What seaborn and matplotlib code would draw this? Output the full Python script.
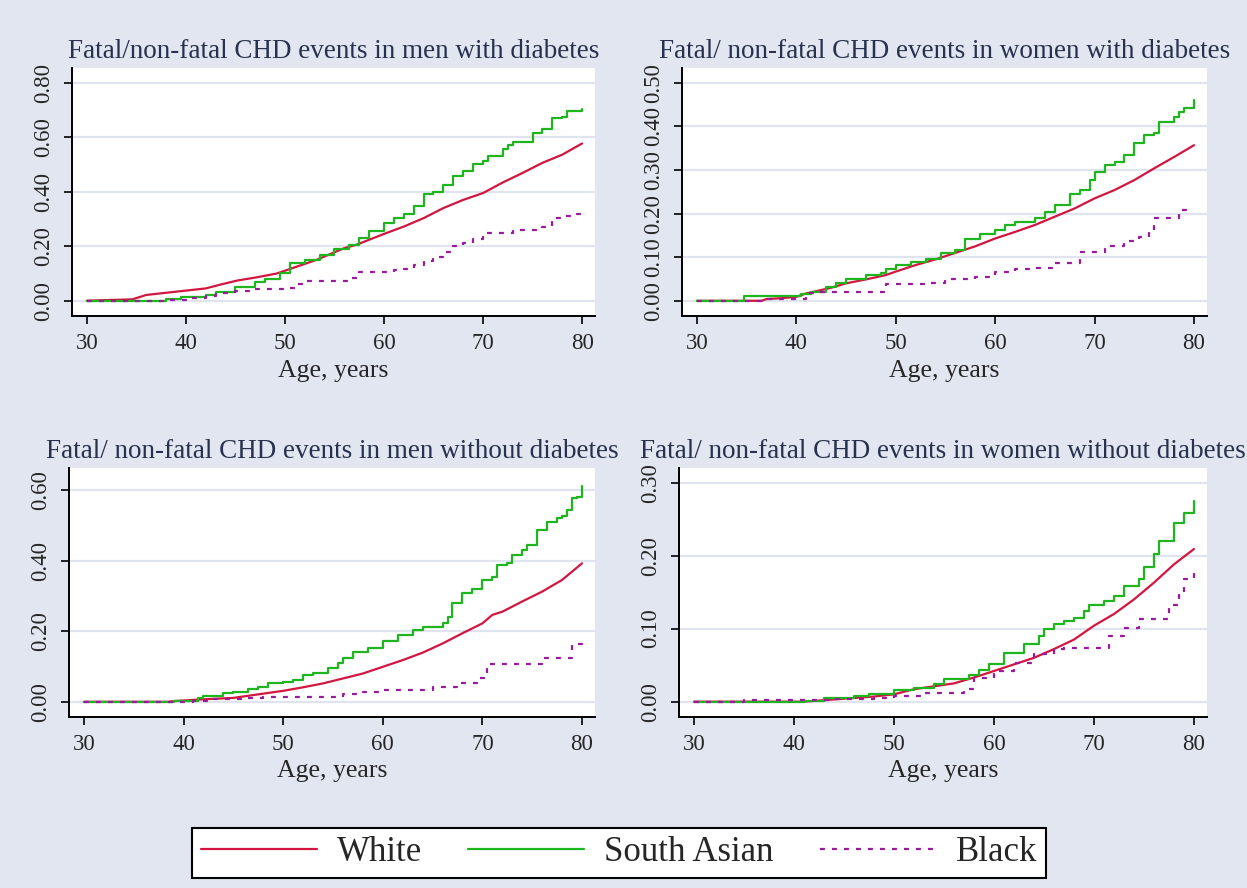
import matplotlib
matplotlib.use('Agg')
import matplotlib.pyplot as plt
from matplotlib.lines import Line2D
import pandas as pd
import seaborn as sns

# Cumulative fatal / non-fatal CHD risk by age
groups = ['White', 'South Asian', 'Black']

# men with diabetes
men_diab_white_age = [30, 34.6, 36, 38, 40, 42, 43.6, 45.2, 47.2, 49.2, 50, 53.2, 56, 57.2, 60,
                      62, 64, 66, 68, 70, 72, 74, 76, 78, 80]
men_diab_white_risk = [0, 0.005, 0.021, 0.029, 0.037, 0.045, 0.06, 0.074, 0.086, 0.1, 0.11, 0.15,
                       0.193, 0.205, 0.245, 0.272, 0.303, 0.34, 0.37, 0.395, 0.434, 0.469, 0.506,
                       0.536, 0.577]
men_diab_sa_age = [30, 37.5, 38, 39.5, 42, 43, 45, 47, 48, 49.5, 50.5, 52, 53.5, 55, 56.5, 57.5,
                   58.5, 60, 61, 62, 63, 64, 65, 66, 67, 68, 69, 70, 70.5, 72, 72.5, 73, 75, 76,
                   77, 78, 78.5, 80]
men_diab_sa_risk = [0, 0, 0.005, 0.015, 0.021, 0.033, 0.05, 0.067, 0.08, 0.1, 0.137, 0.15, 0.168,
                    0.19, 0.205, 0.23, 0.254, 0.285, 0.303, 0.32, 0.346, 0.39, 0.40, 0.426, 0.456,
                    0.475, 0.5, 0.512, 0.53, 0.555, 0.573, 0.582, 0.616, 0.63, 0.671, 0.675, 0.696,
                    0.705]
men_diab_black_age = [30, 38, 40, 42, 43, 45, 47, 50, 51, 52, 56.5, 57.5, 61, 62, 63, 64, 65, 66,
                      67, 68, 69, 70, 73, 76, 77, 78, 79.5, 80]
men_diab_black_risk = [0, 0.003, 0.009, 0.017, 0.027, 0.036, 0.044, 0.045, 0.06, 0.072, 0.082,
                       0.107, 0.113, 0.115, 0.131, 0.144, 0.162, 0.18, 0.2, 0.211, 0.226, 0.248,
                       0.26, 0.269, 0.303, 0.309, 0.318, 0.318]

# women with diabetes
women_diab_white_age = [30, 36.5, 37, 38.5, 40, 41, 42, 43.5, 45, 47, 49, 50, 52, 54, 56, 58, 60,
                        62, 64, 66, 68, 70, 72, 74, 76, 78, 80]
women_diab_white_risk = [0, 0, 0.004, 0.006, 0.009, 0.017, 0.022, 0.03, 0.04, 0.049, 0.059, 0.067,
                         0.082, 0.095, 0.11, 0.125, 0.143, 0.158, 0.174, 0.193, 0.212, 0.235,
                         0.254, 0.277, 0.304, 0.33, 0.357]
women_diab_sa_age = [30, 34.7, 40.5, 41.5, 43, 44, 45, 47, 48.5, 49, 50, 51.5, 53, 54.5, 56, 57,
                     58.5, 60, 61, 62, 64, 65, 66, 67.5, 68.5, 69.5, 70, 71, 72, 73, 74, 75, 76,
                     76.5, 78, 78.5, 79, 80]
women_diab_sa_risk = [0, 0.011, 0.015, 0.021, 0.032, 0.041, 0.051, 0.059, 0.063, 0.072, 0.082,
                      0.089, 0.095, 0.109, 0.116, 0.141, 0.154, 0.162, 0.174, 0.181, 0.189, 0.204,
                      0.219, 0.246, 0.254, 0.277, 0.296, 0.311, 0.319, 0.334, 0.361, 0.38, 0.384,
                      0.41, 0.422, 0.433, 0.443, 0.46]
women_diab_black_age = [30, 37, 41, 42, 49, 53, 55, 58, 59.5, 60, 62, 64, 66, 68.5, 71, 73, 74.5,
                        75.5, 76, 78.5, 79.5]
women_diab_black_risk = [0, 0.003, 0.017, 0.021, 0.038, 0.041, 0.051, 0.055, 0.059, 0.067, 0.072,
                         0.076, 0.086, 0.112, 0.125, 0.138, 0.147, 0.162, 0.189, 0.208, 0.208]

# men without diabetes
men_nodiab_white_age = [30, 38.5, 39, 42, 45, 47, 50, 52, 54, 56, 58, 60, 62, 64, 66, 68, 70, 71,
                        72, 74, 76, 78, 80]
men_nodiab_white_risk = [0, 0, 0.002, 0.007, 0.011, 0.019, 0.031, 0.041, 0.052, 0.066, 0.08,
                         0.099, 0.118, 0.139, 0.165, 0.194, 0.222, 0.246, 0.255, 0.284, 0.312,
                         0.345, 0.392]
men_nodiab_sa_age = [30, 38.5, 39, 41.5, 42, 44, 45, 46.5, 47.5, 48.5, 50, 51, 52, 53, 54.5, 55.5,
                     56, 57, 58.5, 60, 61.5, 63, 64, 66, 66.5, 67, 68, 69, 70, 71, 71.5, 72.5, 73,
                     74, 74.5, 75.5, 76.5, 77.5, 78, 78.5, 79, 79.5, 80]
men_nodiab_sa_risk = [0, 0, 0.003, 0.011, 0.017, 0.024, 0.028, 0.035, 0.043, 0.052, 0.057, 0.061,
                      0.076, 0.082, 0.095, 0.109, 0.125, 0.142, 0.153, 0.173, 0.189, 0.203, 0.213,
                      0.224, 0.241, 0.279, 0.307, 0.319, 0.345, 0.354, 0.388, 0.392, 0.416, 0.43,
                      0.444, 0.487, 0.51, 0.52, 0.526, 0.543, 0.577, 0.581, 0.61]
men_nodiab_black_age = [30, 41, 43, 46, 48, 56, 58, 60, 65, 67.5, 69.5, 70.5, 76, 79, 80]
men_nodiab_black_risk = [0, 0.003, 0.007, 0.011, 0.014, 0.021, 0.028, 0.033, 0.043, 0.052, 0.066,
                         0.106, 0.125, 0.165, 0.168]

# women without diabetes
women_nodiab_white_age = [30, 41, 42, 44, 46, 48, 50, 52, 54, 56, 58, 60, 62, 64, 66, 68, 70, 72,
                          74, 76, 78, 80]
women_nodiab_white_risk = [0, 0, 0.001, 0.003, 0.005, 0.007, 0.01, 0.017, 0.021, 0.025, 0.033,
                           0.042, 0.051, 0.06, 0.072, 0.085, 0.104, 0.12, 0.14, 0.163, 0.188, 0.209]
women_nodiab_sa_age = [30, 41, 43, 46, 47.5, 50, 52, 54, 55, 57.5, 58.5, 59.5, 61, 63, 64.5, 65,
                       66, 67, 68, 69, 69.5, 71, 72, 73, 74.5, 75, 76, 76.5, 78, 79, 80]
women_nodiab_sa_risk = [0, 0.001, 0.005, 0.008, 0.01, 0.016, 0.019, 0.024, 0.031, 0.036, 0.043,
                        0.051, 0.067, 0.079, 0.09, 0.099, 0.106, 0.11, 0.115, 0.124, 0.133, 0.138,
                        0.145, 0.158, 0.168, 0.184, 0.202, 0.22, 0.245, 0.259, 0.275]
women_nodiab_black_age = [30, 35, 44, 48, 50, 53, 57, 58, 60, 62, 64, 66, 67, 71.5, 73, 74.5, 77.5,
                          78.5, 79, 80]
women_nodiab_black_risk = [0, 0.002, 0.004, 0.005, 0.008, 0.012, 0.017, 0.033, 0.042, 0.053,
                           0.065, 0.072, 0.074, 0.09, 0.101, 0.113, 0.133, 0.149, 0.168, 0.186]

titles = ['Fatal/non-fatal CHD events in men with diabetes',
          'Fatal/ non-fatal CHD events in women with diabetes',
          'Fatal/ non-fatal CHD events in men without diabetes',
          'Fatal/ non-fatal CHD events in women without diabetes']
x_ticks = [30, 40, 50, 60, 70, 80]
y_ticks = [[0, 0.2, 0.4, 0.6, 0.8],
           [0, 0.1, 0.2, 0.3, 0.4, 0.5],
           [0, 0.2, 0.4, 0.6],
           [0, 0.1, 0.2, 0.3]]

panel_data = [
    [(men_diab_white_age, men_diab_white_risk), (men_diab_sa_age, men_diab_sa_risk),
     (men_diab_black_age, men_diab_black_risk)],
    [(women_diab_white_age, women_diab_white_risk), (women_diab_sa_age, women_diab_sa_risk),
     (women_diab_black_age, women_diab_black_risk)],
    [(men_nodiab_white_age, men_nodiab_white_risk), (men_nodiab_sa_age, men_nodiab_sa_risk),
     (men_nodiab_black_age, men_nodiab_black_risk)],
    [(women_nodiab_white_age, women_nodiab_white_risk), (women_nodiab_sa_age, women_nodiab_sa_risk),
     (women_nodiab_black_age, women_nodiab_black_risk)],
]

colors = {'White': '#d2163f', 'South Asian': '#1fb51f', 'Black': '#9a1a9c'}
styles = {'White': '-', 'South Asian': '-', 'Black': (0, (2.2, 3.2))}
draw = {'White': 'default', 'South Asian': 'steps-post', 'Black': 'steps-post'}

bg = '#e1e6f0'
sns.set_style('white')
plt.rcParams['font.family'] = ['Liberation Serif', 'DejaVu Serif']

fig = plt.figure(figsize=(12.47, 8.88), dpi=100, facecolor=bg)

# axes boxes (figure fraction) and y limits per panel
boxes = [[0.0577, 0.6436, 0.4194, 0.2798],
         [0.5469, 0.6436, 0.4210, 0.2798],
         [0.0553, 0.1926, 0.4218, 0.2804],
         [0.5445, 0.1926, 0.4234, 0.2804]]
y_lims = [(-0.058, 0.854), (-0.036, 0.534), (-0.043, 0.662), (-0.021, 0.320)]

for i in range(4):
    ax = fig.add_axes(boxes[i])
    ax.set_facecolor('white')
    for grp, (age, risk) in zip(groups, panel_data[i]):
        df = pd.DataFrame({'age': age, 'risk': risk})
        sns.lineplot(data=df, x='age', y='risk', ax=ax, color=colors[grp],
                     linestyle=styles[grp], drawstyle=draw[grp], lw=1.6,
                     estimator=None, errorbar=None)
    ax.set_xlim(28.5, 81.3)
    ax.set_ylim(*y_lims[i])
    ax.set_xticks(x_ticks)
    ax.set_yticks(y_ticks[i])
    ax.set_yticklabels(['%.2f' % v for v in y_ticks[i]])
    ax.yaxis.grid(True, color='#dfe4ee', lw=1.6)
    ax.xaxis.grid(False)
    ax.set_axisbelow(True)
    for s in ['top', 'right']:
        ax.spines[s].set_visible(False)
    for s in ['left', 'bottom']:
        ax.spines[s].set_color('black')
        ax.spines[s].set_linewidth(1.4)
    ax.tick_params(axis='both', which='major', length=6, width=1.2, color='black',
                   labelsize=16.5, left=True, bottom=True)
    ax.tick_params(axis='x', pad=6)
    ax.tick_params(axis='y', labelrotation=90, pad=7)
    for lab in ax.get_yticklabels():
        lab.set_va('center')
    ax.set_xlabel('Age, years', fontsize=18.5, labelpad=4)
    ax.set_ylabel('')
    ax.set_title(titles[i], fontsize=19.5, color='#28324e', pad=7)

handles = [Line2D([], [], color=colors[g], linestyle=styles[g], lw=1.6) for g in groups]
leg = fig.legend(handles, groups, loc='center', bbox_to_anchor=(0.4964, 0.0397), ncol=3,
                 fontsize=25, frameon=True, fancybox=False, framealpha=1,
                 edgecolor='black', facecolor='white', handlelength=3.34,
                 handletextpad=0.58, columnspacing=1.33, borderpad=0.25)
leg.get_frame().set_linewidth(1.5)

fig.savefig('out.png', dpi=100, facecolor=bg)
